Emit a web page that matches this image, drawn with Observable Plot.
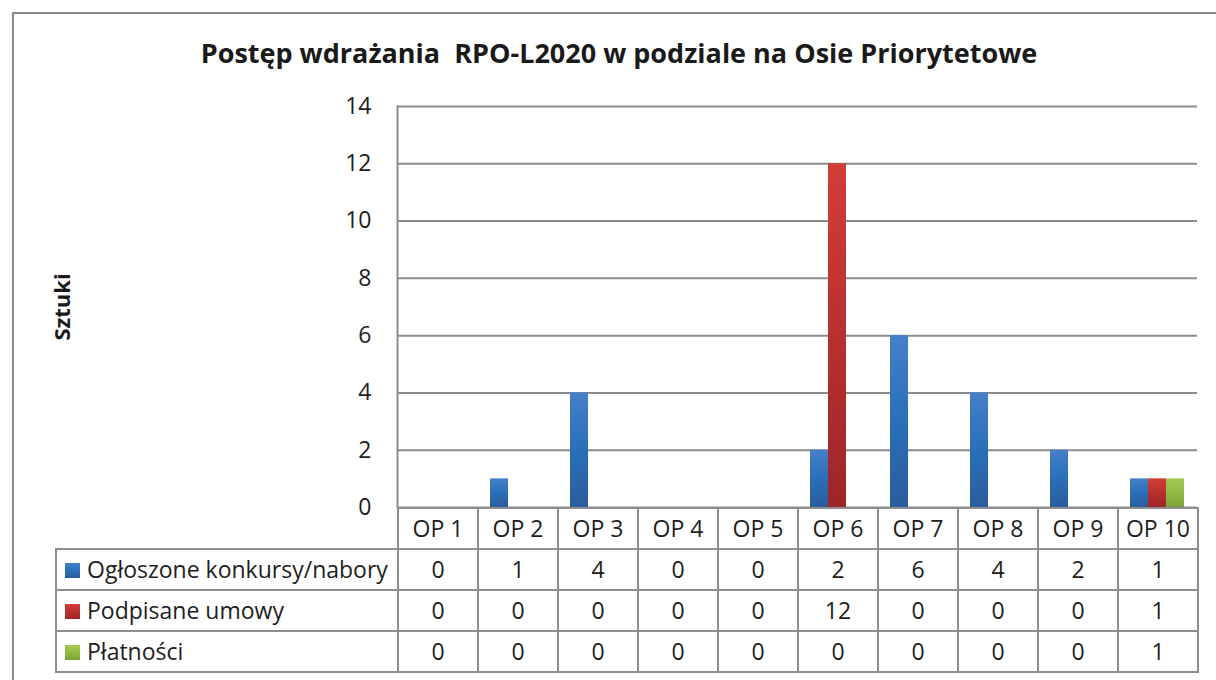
<!DOCTYPE html>
<html>
<head>
<meta charset="utf-8">
<script src="https://cdn.jsdelivr.net/npm/d3@7"></script>
<script src="https://cdn.jsdelivr.net/npm/@observablehq/plot@0.6"></script>
<style>
  html, body { margin: 0; padding: 0; background: #fff; }
  #page { position: relative; width: 1216px; height: 680px; overflow: hidden; font-family: "Open Sans", sans-serif; color: #1e1e1e; }
  #outer { position: absolute; left: 12px; top: 12px; width: 1300px; height: 800px; border-left: 2px solid #8a8a8a; border-top: 2px solid #8a8a8a; }
  #title { position: absolute; left: 0; width: 1238px; top: 34px; text-align: center; font-weight: bold; font-size: 27px; white-space: pre; color: #1a1a1a; }
  #chart { position: absolute; left: 0; top: 90px; }
  #tbl { position: absolute; left: 55px; top: 507px; border-collapse: collapse; table-layout: fixed; font-size: 23px; }
  #tbl tr { height: 41px; }
  #tbl td { border: 2px solid #8e8e8e; padding: 0; text-align: center; color: #1e1e1e; line-height: 1; }
  #tbl td.blank { border: none; }
  #tbl td.lab { text-align: left; padding-left: 8px; white-space: nowrap; }
  .sw { display: inline-block; width: 15px; height: 15px; margin-right: 7px; vertical-align: 0px; }
</style>
</head>
<body>
<div id="page">
  <div id="outer"></div>
  <div id="title"></div>
  <div id="chart"></div>
  <table id="tbl"></table>
</div>
<script>
const titleText = "Postęp wdrażania  RPO-L2020 w podziale na Osie Priorytetowe";
const yLabel = "Sztuki";
const categories = ["OP 1", "OP 2", "OP 3", "OP 4", "OP 5", "OP 6", "OP 7", "OP 8", "OP 9", "OP 10"];
const seriesNames = ["Ogłoszone konkursy/nabory", "Podpisane umowy", "Płatności"];
const ogloszone = [0, 1, 4, 0, 0, 2, 6, 4, 2, 1];
const umowy = [0, 0, 0, 0, 0, 12, 0, 0, 0, 1];
const platnosci = [0, 0, 0, 0, 0, 0, 0, 0, 0, 1];
const yTicks = [0, 2, 4, 6, 8, 10, 12, 14];

const seriesValues = [ogloszone, umowy, platnosci];
const gradients = [
  ["#4580c8", "#2a6fb8", "#2c5c9c"],
  ["#d23d38", "#b8302f", "#9c2629"],
  ["#a6ca52", "#93bb44", "#7ca03a"]
];

document.getElementById("title").textContent = titleText;

const bandW = 80, groupPad = 13, barW = 18;
const barMarks = seriesValues.map((vals, k) =>
  Plot.barY(
    categories.map((c, i) => ({cat: c, value: vals[i], series: seriesNames[k]})).filter(d => d.value > 0),
    {x: "cat", y: "value", fill: `url(#grad${k})`,
     insetLeft: groupPad + barW * k, insetRight: bandW - groupPad - barW * (k + 1)}
  )
);

const chart = Plot.plot({
  width: 1216,
  height: 420,
  marginLeft: 397,
  marginRight: 19,
  marginTop: 16,
  marginBottom: 3,
  style: {fontFamily: "Open Sans, sans-serif", fontSize: "23px", color: "#1e1e1e", background: "transparent", overflow: "visible"},
  x: {domain: categories, padding: 0, axis: null},
  y: {domain: [0, 14], ticks: yTicks, tickSize: 0, tickPadding: 26, label: null},
  marks: [
    Plot.ruleY(yTicks, {stroke: "#8c8c8c", strokeWidth: 2}),
    Plot.frame({anchor: "left", stroke: "#8c8c8c", strokeWidth: 2}),
    ...barMarks,
    Plot.text([yLabel], {frameAnchor: "left", dx: -335, rotate: -90, textAnchor: "middle", fontWeight: "bold", fontSize: 22, fill: "#1a1a1a"})
  ]
});

const defs = d3.select(chart).insert("defs", ":first-child");
gradients.forEach((g, k) => {
  const lg = defs.append("linearGradient").attr("id", `grad${k}`).attr("x1", 0).attr("y1", 0).attr("x2", 0).attr("y2", 1);
  lg.append("stop").attr("offset", "0%").attr("stop-color", g[0]);
  lg.append("stop").attr("offset", "50%").attr("stop-color", g[1]);
  lg.append("stop").attr("offset", "100%").attr("stop-color", g[2]);
});
document.getElementById("chart").appendChild(chart);

// data table
const tbl = d3.select("#tbl");
const cg = tbl.append("colgroup");
cg.append("col").style("width", "342px");
categories.forEach(() => cg.append("col").style("width", "80px"));
const head = tbl.append("tr");
head.append("td").attr("class", "blank");
categories.forEach(c => head.append("td").text(c));
seriesNames.forEach((name, k) => {
  const tr = tbl.append("tr");
  const lab = tr.append("td").attr("class", "lab");
  const g = gradients[k];
  lab.append("span").attr("class", "sw").style("background", `linear-gradient(${g[0]}, ${g[1]}, ${g[2]})`);
  lab.append("span").text(name);
  seriesValues[k].forEach(v => tr.append("td").text(v));
});
</script>
</body>
</html>
